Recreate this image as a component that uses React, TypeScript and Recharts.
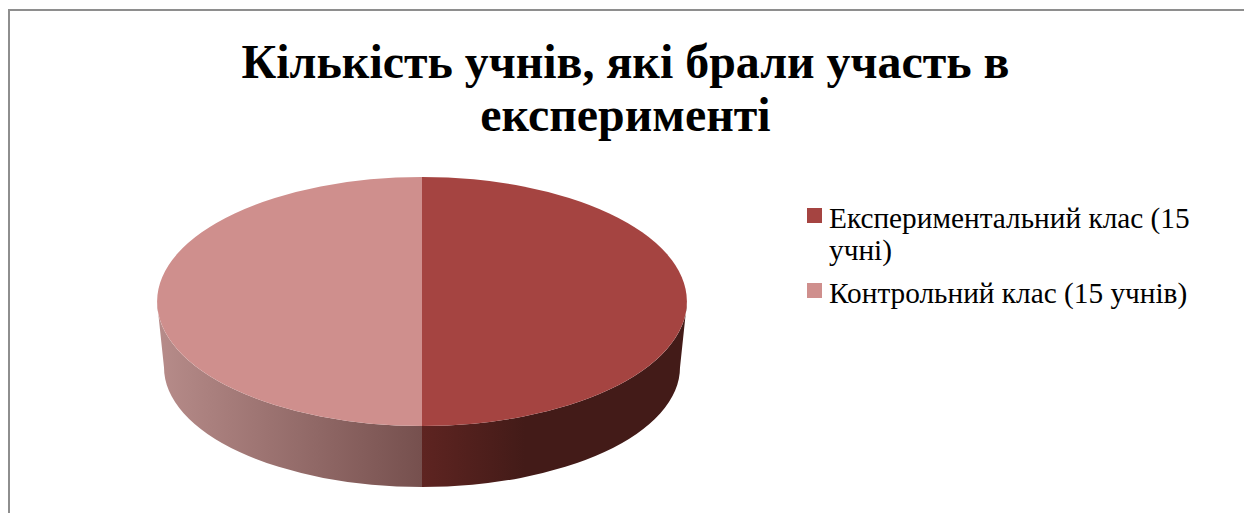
import React from 'react'
import { PieChart, Pie, Legend } from 'recharts'

const categories = ['Експериментальний клас (15 учні)', 'Контрольний клас (15 учнів)']
const pupils = [15, 15]
const titleLines = ['Кількість учнів, які брали участь в', 'експерименті']

const topColors = ['#A54441', '#CF8F8D']
const wallColors = ['url(#wallRight)', 'url(#wallLeft)']

const serif = '"Liberation Serif", "Times New Roman", serif'

const CX = 422
const CY = 301.5
const RADIUS = 265
// vertical squash of the disc, and the offset / size of its lower rim
const SQUASH = 0.47
const RIM_DROP = 66
const RIM_RX = 258
const RIM_RY = 119.5

const topData = categories.map((name, i) => ({ name, value: pupils[i], fill: topColors[i] }))
const wallData = categories.map((name, i) => ({ name, value: pupils[i], fill: wallColors[i] }))

const rad = (deg: number) => (deg * Math.PI) / 180

function TopSlice({ cx, cy, outerRadius, startAngle, endAngle, fill }: any) {
  const ry = outerRadius * SQUASH
  const px = (a: number) => cx + outerRadius * Math.cos(rad(a))
  const py = (a: number) => cy - ry * Math.sin(rad(a))
  const large = Math.abs(startAngle - endAngle) > 180 ? 1 : 0
  const d = `M${cx},${cy} L${px(startAngle)},${py(startAngle)} A${outerRadius},${ry} 0 ${large} 1 ${px(endAngle)},${py(endAngle)} Z`
  return <path d={d} fill={fill} />
}

// side wall: only the part of a slice on the front half of the disc is visible
function WallSlice({ cx, cy, outerRadius, startAngle, endAngle, fill }: any) {
  const from = Math.min(startAngle, 0)
  const to = Math.max(endAngle, -180)
  if (from <= to) return null
  const ry = outerRadius * SQUASH
  const tx = (a: number) => cx + outerRadius * Math.cos(rad(a))
  const ty = (a: number) => cy - ry * Math.sin(rad(a))
  const bx = (a: number) => cx + RIM_RX * Math.cos(rad(a))
  const by = (a: number) => cy + RIM_DROP - RIM_RY * Math.sin(rad(a))
  const d = `M${tx(from)},${ty(from)} A${outerRadius},${ry} 0 0 1 ${tx(to)},${ty(to)} L${bx(to)},${by(to)} A${RIM_RX},${RIM_RY} 0 0 0 ${bx(from)},${by(from)} Z`
  return <path d={d} fill={fill} />
}

function LegendList({ payload }: any) {
  const items = (payload ?? []).filter((entry: any) => entry.type !== 'none')
  return (
    <div style={{ fontFamily: serif, fontSize: 29.3, lineHeight: '32px', color: '#000' }}>
      {items.map((entry: any) => (
        <div key={entry.value} style={{ position: 'relative', paddingLeft: 22, marginBottom: 11 }}>
          <span style={{ position: 'absolute', left: 0, top: 6, width: 15, height: 15, background: entry.color }} />
          {entry.value}
        </div>
      ))}
    </div>
  )
}

export default function App() {
  return (
    <div style={{ position: 'absolute', left: 0, top: 0, width: 1244, height: 513, overflow: 'hidden', background: '#fff' }}>
      <div style={{ position: 'absolute', left: 8, top: 9, right: 0, bottom: 0, borderLeft: '2px solid #8e8e8e', borderTop: '2px solid #8e8e8e' }} />
      <div style={{ position: 'absolute', left: 0, top: 35, width: 1251, textAlign: 'center', fontFamily: serif, fontWeight: 700, fontSize: 47.9, lineHeight: '53px', color: '#000' }}>
        {titleLines.map((line) => <div key={line}>{line}</div>)}
      </div>
      <PieChart width={1244} height={513} margin={{ top: 0, right: 0, bottom: 0, left: 0 }} style={{ position: 'absolute', left: 0, top: 0 }}>
        <defs>
          <linearGradient id="wallLeft" gradientUnits="userSpaceOnUse" x1={157} x2={422} y1={0} y2={0}>
            <stop offset="0" stopColor="#B78C8A" />
            <stop offset="1" stopColor="#76504E" />
          </linearGradient>
          <linearGradient id="wallRight" gradientUnits="userSpaceOnUse" x1={422} x2={525} y1={0} y2={0}>
            <stop offset="0" stopColor="#5E2421" />
            <stop offset="1" stopColor="#431B18" />
          </linearGradient>
        </defs>
        <Pie
          data={wallData}
          dataKey="value"
          nameKey="name"
          cx={CX}
          cy={CY}
          innerRadius={0}
          outerRadius={RADIUS}
          startAngle={90}
          endAngle={-270}
          stroke="none"
          legendType="none"
          shape={WallSlice}
          isAnimationActive={false}
        />
        <Pie
          data={topData}
          dataKey="value"
          nameKey="name"
          cx={CX}
          cy={CY}
          innerRadius={0}
          outerRadius={RADIUS}
          startAngle={90}
          endAngle={-270}
          stroke="none"
          shape={TopSlice}
          isAnimationActive={false}
        />
        <Legend
          layout="vertical"
          align="right"
          verticalAlign="top"
          content={LegendList}
          wrapperStyle={{ left: 807, top: 202, width: 390, right: 'auto' }}
        />
      </PieChart>
    </div>
  )
}
